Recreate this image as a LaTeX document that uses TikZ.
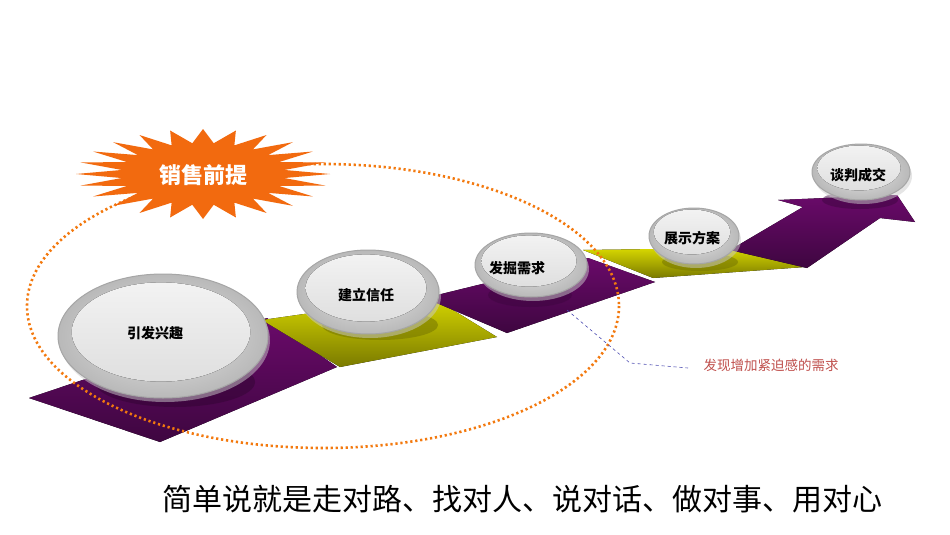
\documentclass[tikz,border=0pt]{standalone}
\usepackage{fontspec}
\newfontfamily\cjk{Noto Sans CJK SC}
\usetikzlibrary{shadings}
\definecolor{pur}{HTML}{6A0A6A}
\definecolor{purd}{HTML}{3E0640}
\definecolor{yel}{HTML}{D8D800}
\definecolor{yeld}{HTML}{7A7A00}
\definecolor{org}{HTML}{F26A0F}
\definecolor{note}{HTML}{C0504D}
\tikzset{
  purseg/.style={top color=pur, bottom color=purd, draw=none},
  yelseg/.style={top color=yel, bottom color=yeld, draw=none},
  btnouter/.style={draw=gray!70, line width=1pt, inner color=gray!20, outer color=gray!55},
  btninner/.style={draw=none, top color=white!90!gray, bottom color=gray!25},
  btnlabel/.style={font=\cjk\bfseries\fontsize{14}{16}\selectfont, text=black},
}
\begin{document}
\begin{tikzpicture}[x=1pt,y=-1pt]
\useasboundingbox (0,0) rectangle (950,535);
\fill[white] (0,0) rectangle (950,535);
% path segments
\fill[purseg] (29,398) -- (160,442) -- (337,367) -- (267,318) -- cycle;
\fill[yelseg] (262,320) -- (340,367) -- (497,337) -- (430,296) -- cycle;
\fill[purseg] (425,298) -- (507,333) -- (655,282) -- (588,258) -- cycle;
\fill[yelseg] (583,250) -- (653,278) -- (805,267) -- (735,248) -- cycle;
\fill[purseg] (730,250) -- (807,268) -- (880,218) -- (915,222) -- (897,195) -- (778,200) -- (803,207) -- cycle;
% shadows under buttons
\fill[purd!80!black, opacity=0.5] (175,382) ellipse (80 and 25);
\fill[yeld, opacity=0.6] (380,325) ellipse (58 and 15);
\fill[purd, opacity=0.5] (530,295) ellipse (42 and 12);
\fill[yeld, opacity=0.6] (700,262) ellipse (38 and 9);
\fill[purd, opacity=0.5] (860,200) ellipse (38 and 9);
% buttons
\foreach \n/\cx/\cy/\rx/\ry in {a/163/336/105/62, b/368/292/71/42, c/531/265/56/32, d/694/236/45/28, e/861/172/49/28}{
  \fill[gray!40, opacity=0.5] (\cx+2,\cy+4) ellipse ({\rx} and {\ry});
  \draw[btnouter] (\cx,\cy) ellipse ({\rx} and {\ry});
  \fill[btninner] (\cx-2,\cy-4) ellipse ({\rx*0.85} and {\ry*0.8});
}
\node[btnlabel] (t1) at (155,333) {引发兴趣};
\node[btnlabel] (t2) at (366,295) {建立信任};
\node[btnlabel] (t3) at (517,268) {发掘需求};
\node[btnlabel] (t4) at (692,238) {展示方案};
\node[btnlabel] (t5) at (858,175) {谈判成交};
% dotted ellipse
\draw[org!90!yellow, line width=2.6pt, dash pattern=on 2.2pt off 2.8pt] (323,306) ellipse (296 and 142);
% starburst
\fill[org] plot[samples at={0,...,47}, variable=\i] ({203+(mod(\i,2)==0 ? 127 : 82)*cos(\i*7.5)}, {174+(mod(\i,2)==0 ? 45 : 31)*sin(\i*7.5)}) -- cycle;
\node[font=\cjk\bfseries\fontsize{22}{24}\selectfont, text=white] (sb) at (203,175) {销售前提};
% annotation
\coordinate (p0) at (567,310);
\coordinate (p1) at (630,363);
\node[font=\cjk\fontsize{13.5}{16}\selectfont, text=note, anchor=west] (ann) at (700,365) {发现增加紧迫感的需求};
\draw[gray!60!blue, dashed, line width=0.6pt] (p0) -- (p1) -- ([xshift=-12pt,yshift=-3pt]ann.west);
% bottom text
\node[font=\cjk\fontsize{30}{34}\selectfont, text=black] (bottom) at (522,499) {简单说就是走对路、找对人、说对话、做对事、用对心};
\end{tikzpicture}
\end{document}
